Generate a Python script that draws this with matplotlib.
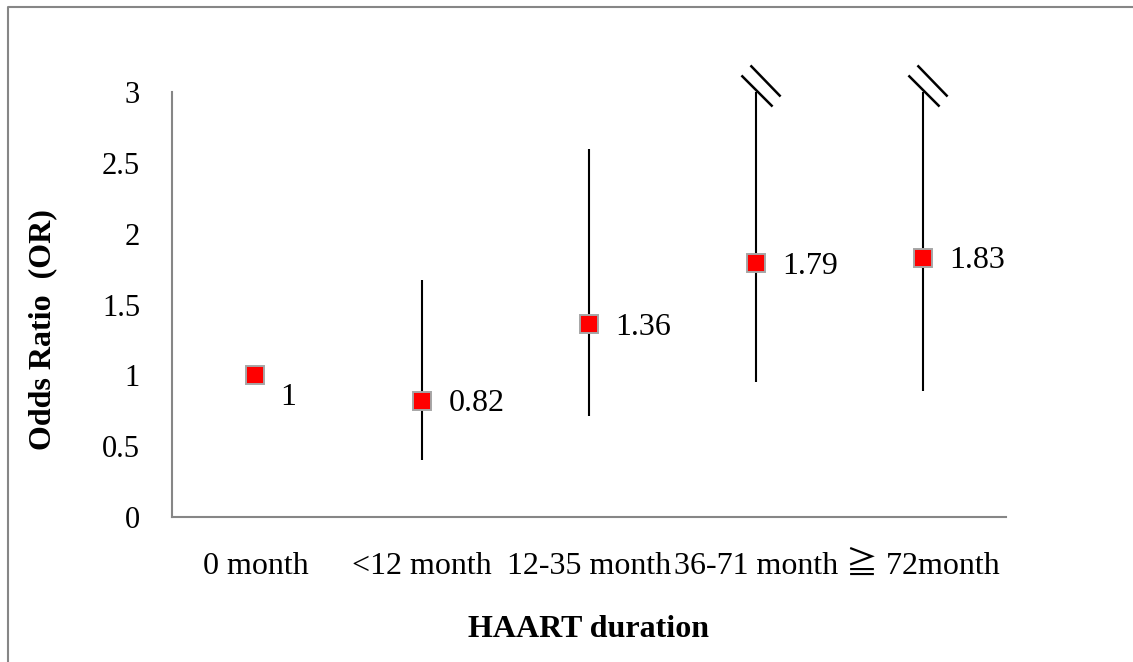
import numpy as np
import matplotlib.pyplot as plt
from matplotlib.path import Path
from matplotlib.lines import Line2D

plt.rcParams['font.family'] = ['Liberation Serif', 'Noto Sans CJK JP', 'DejaVu Sans']

categories = ['0 month', '<12 month', '12-35 month', '36-71 month', '\u2267 72month']
odds_ratio = [1, 0.82, 1.36, 1.79, 1.83]
ci_low = [np.nan, 0.40, 0.71, 0.95, 0.89]
ci_high = [np.nan, 1.67, 2.60, 3.0, 3.0]
truncated = [False, False, False, True, True]
y_ticks = [0, 0.5, 1, 1.5, 2, 2.5, 3]
y_ticklabels = ['0', '0.5', '1', '1.5', '2', '2.5', '3']

fig = plt.figure(figsize=(11.33, 6.62), dpi=100)
ax = fig.add_axes([0.1518, 0.219, 0.7361, 0.642])

x = np.arange(len(categories))

# confidence intervals
ax.vlines(x, ci_low, ci_high, color='black', lw=1.5, zorder=2)

# break marks on intervals running past the top of the axis
brk = Path([(-15, 17), (16, -14), (-6, 27), (24, -4)],
           [Path.MOVETO, Path.LINETO, Path.MOVETO, Path.LINETO])
for xi, hi, cut in zip(x, ci_high, truncated):
    if cut:
        ax.plot(xi, hi, marker=brk, ms=39, mfc='none', mec='black', mew=1.8,
                clip_on=False, zorder=3)

ax.plot(x, odds_ratio, ls='none', marker='s', ms=13.2, mfc='#ff0000',
        mec='#a6a6a6', mew=1.4, zorder=4, clip_on=False)

for i, v in enumerate(odds_ratio):
    if i == 0:
        off = (18, -16)
    else:
        off = (19, -2)
    ax.annotate('%g' % v, (x[i], v), xytext=off, textcoords='offset points',
                ha='left', va='center', fontsize=23)

ax.set_xlim(-0.5, len(categories) - 0.5)
ax.set_ylim(0, 3)
ax.set_yticks(y_ticks)
ax.set_yticklabels(y_ticklabels)
ax.set_xticks(x)
ax.set_xticklabels(categories)
ax.tick_params(axis='both', length=0, labelsize=22)
ax.tick_params(axis='x', labelsize=23, pad=25)
ax.tick_params(axis='y', pad=23)

for s in ['top', 'right']:
    ax.spines[s].set_visible(False)
for s in ['left', 'bottom']:
    ax.spines[s].set_color('#868686')
    ax.spines[s].set_linewidth(1.5)

ax.set_xlabel('HAART duration', fontsize=23, fontweight='bold', labelpad=25)
ax.set_ylabel('Odds Ratio  (OR)', fontsize=23, fontweight='bold')
ax.yaxis.set_label_coords(-0.138, 0.44)

# chart-area frame
fig.add_artist(Line2D([0.0075, 0.0075, 1.0], [0.0, 0.99, 0.99],
                      color='#868686', lw=1.5, transform=fig.transFigure))

fig.savefig('out.png', dpi=100)
